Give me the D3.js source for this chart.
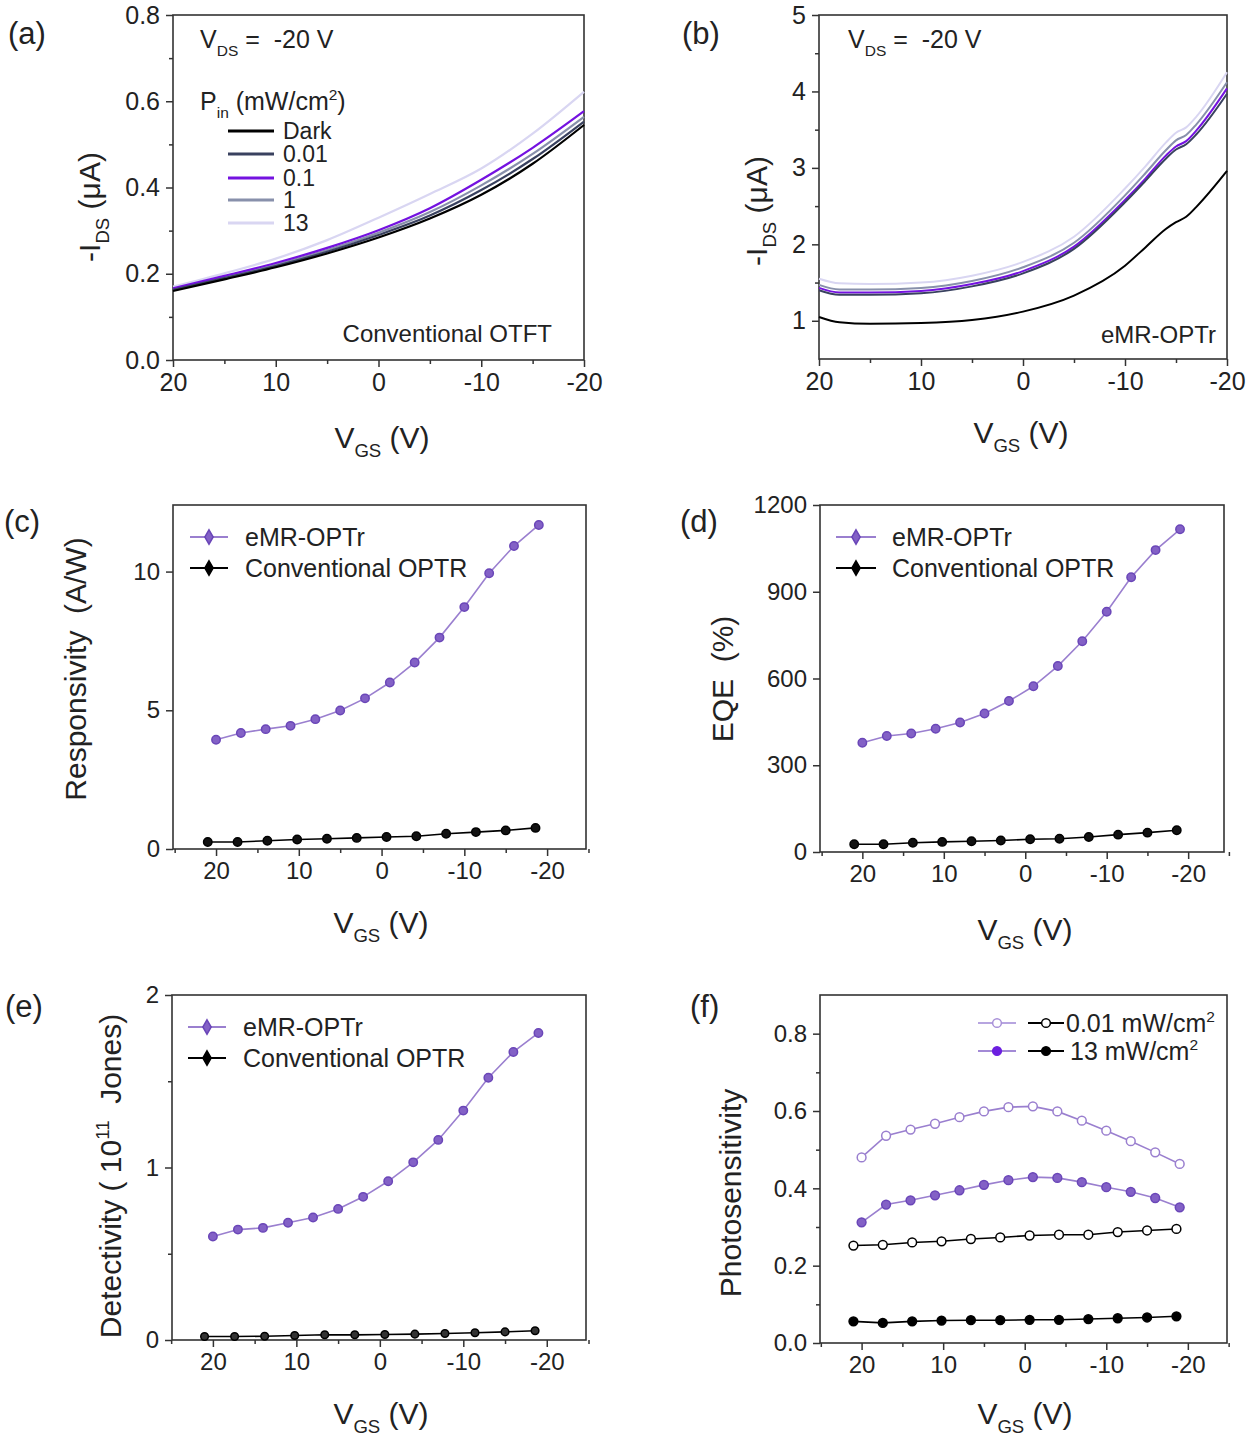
<!DOCTYPE html>
<html>
<head>
<meta charset="utf-8">
<script src="https://cdn.jsdelivr.net/npm/d3@7"></script>
<style>
  html, body { margin: 0; padding: 0; background: #fff; }
  svg text { font-family: "Liberation Sans", Arial, sans-serif; fill: #222; white-space: pre; }
</style>
</head>
<body>
<div id="container"></div>
<script>
// ---- data ----
// (a) conventional OTFT transfer curves, -IDS (uA) vs VGS
const vgsA = [20, 15, 10, 5, 0, -5, -10, -15, -20];
const powerLabels = ["Dark", "0.01", "0.1", "1", "13"];
const powerColors = ["#000000", "#39415f", "#7412e0", "#8890ab", "#d9d6f2"];
const idsA = [
  [0.160, 0.187, 0.215, 0.247, 0.284, 0.328, 0.383, 0.455, 0.545],
  [0.163, 0.190, 0.218, 0.251, 0.290, 0.335, 0.394, 0.466, 0.553],
  [0.166, 0.195, 0.225, 0.260, 0.301, 0.352, 0.418, 0.492, 0.577],
  [0.164, 0.192, 0.221, 0.255, 0.295, 0.343, 0.405, 0.478, 0.564],
  [0.170, 0.201, 0.235, 0.278, 0.330, 0.385, 0.444, 0.525, 0.622]
];

// (b) eMR-OPTr transfer curves
const vgsB = [20, 18, 15, 10, 5, 0, -5, -10, -12, -14, -15, -16, -17, -20];
const idsB = [
  [1.05, 0.98, 0.96, 0.97, 1.01, 1.12, 1.33, 1.72, 1.96, 2.20, 2.29, 2.36, 2.49, 2.96],
  [1.40, 1.34, 1.34, 1.36, 1.45, 1.62, 1.94, 2.55, 2.83, 3.12, 3.24, 3.31, 3.44, 3.97],
  [1.43, 1.37, 1.37, 1.39, 1.48, 1.65, 1.97, 2.58, 2.86, 3.16, 3.28, 3.35, 3.49, 4.04],
  [1.47, 1.41, 1.41, 1.43, 1.52, 1.70, 2.02, 2.64, 2.93, 3.23, 3.36, 3.43, 3.57, 4.12],
  [1.55, 1.49, 1.48, 1.50, 1.59, 1.77, 2.10, 2.73, 3.02, 3.33, 3.46, 3.53, 3.67, 4.25]
];

// (c)-(f) figures of merit
const vgsEmr = [20, 17, 14, 11, 8, 5, 2, -1, -4, -7, -10, -13, -16, -19];
const vgsConv = [21, 17.4, 13.8, 10.2, 6.6, 3, -0.6, -4.2, -7.8, -11.4, -15, -18.6];
const respEmr = [3.94, 4.18, 4.32, 4.44, 4.68, 4.99, 5.43, 6.0, 6.72, 7.62, 8.72, 9.94, 10.92, 11.68];
const respConv = [0.25, 0.25, 0.30, 0.34, 0.37, 0.40, 0.43, 0.46, 0.55, 0.61, 0.67, 0.76];
const eqeEmr = [378, 401, 410, 426, 448, 479, 522, 573, 643, 729, 831, 950, 1044, 1116];
const eqeConv = [27, 27, 32, 35, 37, 40, 44, 46, 52, 60, 67, 75];
const detEmr = [0.60, 0.64, 0.65, 0.68, 0.71, 0.76, 0.83, 0.92, 1.03, 1.16, 1.33, 1.52, 1.67, 1.78];
const detConv = [0.02, 0.02, 0.022, 0.026, 0.03, 0.03, 0.032, 0.034, 0.038, 0.042, 0.047, 0.054];
const psEmrLow = [0.480, 0.536, 0.552, 0.567, 0.584, 0.599, 0.610, 0.612, 0.599, 0.575, 0.549, 0.522, 0.493, 0.463];
const psEmrHigh = [0.312, 0.358, 0.369, 0.382, 0.395, 0.409, 0.421, 0.429, 0.427, 0.416, 0.403, 0.391, 0.375, 0.351];
const psConvLow = [0.252, 0.254, 0.260, 0.263, 0.269, 0.273, 0.278, 0.280, 0.280, 0.287, 0.291, 0.295];
const psConvHigh = [0.056, 0.052, 0.056, 0.058, 0.059, 0.059, 0.060, 0.060, 0.062, 0.064, 0.066, 0.069];

const seriesNames = ["eMR-OPTr", "Conventional OPTR"];

const emrLine = "#9a7fcf", emrFill = "#8361c6", emrStroke = "#6a46b8", emrVivid = "#6c1fe0";

const svg = d3.select("#container").append("svg")
  .attr("width", 1250).attr("height", 1439);

// text with sub/superscript parts
function rich(sel, parts, size) {
  let shift = 0;
  parts.forEach(p => {
    const target = p.sub ? size * 0.3 : p.sup ? -size * 0.4 : 0;
    const ts = sel.append("tspan").text(p.t).attr("dy", target - shift);
    if (p.sub || p.sup) ts.attr("font-size", size * 0.62);
    shift = target;
  });
  return sel;
}

function label(x, y, parts, size, anchor, rotate) {
  const t = svg.append("text")
    .attr("font-size", size)
    .attr("text-anchor", anchor || "start");
  if (rotate) t.attr("transform", `translate(${x},${y}) rotate(-90)`);
  else t.attr("x", x).attr("y", y);
  return rich(t, parts, size);
}

function panel(o) {
  const x = d3.scaleLinear().domain(o.xDomain).range([o.left, o.right]);
  const y = d3.scaleLinear().domain(o.yDomain).range([o.bottom, o.top]);
  const g = svg.append("g");

  const fmtY = o.yFmt || (d => String(d));
  const ax = g.append("g").attr("transform", `translate(0,${o.bottom})`)
    .call(d3.axisBottom(x).tickValues(o.xTicks).tickSize(7).tickPadding(6)
      .tickFormat(d => String(d)));
  const ay = g.append("g").attr("transform", `translate(${o.left},0)`)
    .call(d3.axisLeft(y).tickValues(o.yTicks).tickSize(7).tickPadding(6)
      .tickFormat(fmtY));
  [ax, ay].forEach(a => {
    a.selectAll("text").attr("font-size", o.tickSize || 24)
      .attr("font-family", '"Liberation Sans", Arial, sans-serif').attr("fill", "#333");
    a.selectAll("line").attr("stroke", "#333").attr("stroke-width", 1.5);
    a.select(".domain").remove();
  });
  if (o.xMinor) g.append("g").attr("transform", `translate(0,${o.bottom})`)
    .call(d3.axisBottom(x).tickValues(o.xMinor).tickSize(4).tickFormat(""))
    .call(s => { s.select(".domain").remove(); s.selectAll("line").attr("stroke", "#333").attr("stroke-width", 1.5); });
  if (o.yMinor) g.append("g").attr("transform", `translate(${o.left},0)`)
    .call(d3.axisLeft(y).tickValues(o.yMinor).tickSize(4).tickFormat(""))
    .call(s => { s.select(".domain").remove(); s.selectAll("line").attr("stroke", "#333").attr("stroke-width", 1.5); });

  g.append("rect")
    .attr("x", o.left).attr("y", o.top)
    .attr("width", o.right - o.left).attr("height", o.bottom - o.top)
    .attr("fill", "none").attr("stroke", "#333").attr("stroke-width", 1.6);

  return { g, x, y };
}

function curves(p, xs, ys, colors, width, curve) {
  const line = d3.line().x((d, i) => p.x(xs[i])).y(d => p.y(d)).curve(curve || d3.curveLinear);
  ys.forEach((s, k) => {
    p.g.append("path").datum(s).attr("d", line)
      .attr("fill", "none").attr("stroke", colors[k]).attr("stroke-width", width);
  });
}

function markers(p, xs, ys, fill, stroke, r) {
  p.g.selectAll(null).data(ys).join("circle")
    .attr("cx", (d, i) => p.x(xs[i])).attr("cy", d => p.y(d))
    .attr("r", r || 4.2).attr("fill", fill).attr("stroke", stroke).attr("stroke-width", 1.5);
}

function legendRow(x1, x2, yy, color, fill, stroke, shape) {
  svg.append("line").attr("x1", x1).attr("x2", x2).attr("y1", yy).attr("y2", yy)
    .attr("stroke", color).attr("stroke-width", 2);
  svg.append("path")
    .attr("transform", `translate(${(x1 + x2) / 2},${yy})`)
    .attr("d", d3.symbol().type(shape || d3.symbolDiamond).size(60)())
    .attr("fill", fill).attr("stroke", stroke).attr("stroke-width", 1.5);
}

const xTicks = [20, 10, 0, -10, -20];
const xMinorA = [15, 5, -5, -15];
const xMinorC = [25, 15, 5, -5, -15, -25];
const V_GS = [{ t: "V" }, { t: "GS", sub: true }, { t: " (V)" }];

// ---------- (a) ----------
const pa = panel({ left: 173, right: 584, top: 15, bottom: 360, xDomain: [20, -20], yDomain: [0, 0.8],
  xTicks, xMinor: xMinorA, yTicks: [0, 0.2, 0.4, 0.6, 0.8], yMinor: [0.1, 0.3, 0.5, 0.7],
  yFmt: d3.format(".1f"), tickSize: 25 });
curves(pa, vgsA, idsA.slice().reverse(), powerColors.slice().reverse(), 2.2, d3.curveMonotoneX);
label(8, 44, [{ t: "(a)" }], 31);
label(200, 48, [{ t: "V" }, { t: "DS", sub: true }, { t: " =  -20 V" }], 25);
label(200, 110, [{ t: "P" }, { t: "in", sub: true }, { t: " (mW/cm" }, { t: "2", sup: true }, { t: ")" }], 25);
const legY = [131, 154, 178, 200, 223];
powerLabels.forEach((lab, i) => {
  svg.append("line").attr("x1", 228).attr("x2", 274).attr("y1", legY[i]).attr("y2", legY[i])
    .attr("stroke", powerColors[i]).attr("stroke-width", 3);
  label(283, legY[i] + 8, [{ t: lab }], 23);
});
label(552, 342, [{ t: "Conventional OTFT" }], 24, "end");
label(100, 207, [{ t: "-I" }, { t: "DS", sub: true }, { t: " (μA)" }], 30, "middle", true);
label(382, 448, V_GS, 30, "middle");

// ---------- (b) ----------
const pb = panel({ left: 819, right: 1227, top: 15, bottom: 359, xDomain: [20, -20], yDomain: [0.5, 5],
  xTicks, xMinor: xMinorA, yTicks: [1, 2, 3, 4, 5], yMinor: [1.5, 2.5, 3.5, 4.5], tickSize: 25 });
curves(pb, vgsB, idsB.slice().reverse(), powerColors.slice().reverse(), 2, d3.curveMonotoneX);
label(682, 44, [{ t: "(b)" }], 31);
label(848, 48, [{ t: "V" }, { t: "DS", sub: true }, { t: " =  -20 V" }], 25);
label(1216, 343, [{ t: "eMR-OPTr" }], 24, "end");
label(767, 211, [{ t: "-I" }, { t: "DS", sub: true }, { t: " (μA)" }], 30, "middle", true);
label(1021, 443, V_GS, 30, "middle");

// ---------- (c) ----------
const pc = panel({ left: 173, right: 586, top: 505, bottom: 849, xDomain: [25.2, -24.7], yDomain: [0, 12.4],
  xTicks, xMinor: xMinorC, yTicks: [0, 5, 10] });
curves(pc, vgsEmr, [respEmr], [emrLine], 1.6);
curves(pc, vgsConv, [respConv], ["#000"], 1.6);
markers(pc, vgsEmr, respEmr, emrFill, emrStroke);
markers(pc, vgsConv, respConv, "#111", "#000");
label(4, 532, [{ t: "(c)" }], 31);
legendRow(190, 228, 537, emrLine, emrFill, emrStroke);
legendRow(190, 228, 568, "#000", "#000", "#000");
label(245, 546, [{ t: seriesNames[0] }], 25);
label(245, 577, [{ t: seriesNames[1] }], 25);
label(86, 669, [{ t: "Responsivity  (A/W)" }], 30, "middle", true);
label(381, 933, V_GS, 30, "middle");

// ---------- (d) ----------
const pd = panel({ left: 820, right: 1224, top: 505, bottom: 852, xDomain: [25.2, -24.4], yDomain: [0, 1200],
  xTicks, xMinor: xMinorC, yTicks: [0, 300, 600, 900, 1200] });
curves(pd, vgsEmr, [eqeEmr], [emrLine], 1.6);
curves(pd, vgsConv, [eqeConv], ["#000"], 1.6);
markers(pd, vgsEmr, eqeEmr, emrFill, emrStroke);
markers(pd, vgsConv, eqeConv, "#111", "#000");
label(680, 532, [{ t: "(d)" }], 31);
legendRow(836, 876, 537, emrLine, emrFill, emrStroke);
legendRow(836, 876, 568, "#000", "#000", "#000");
label(892, 546, [{ t: seriesNames[0] }], 25);
label(892, 577, [{ t: seriesNames[1] }], 25);
label(733, 679, [{ t: "EQE  (%)" }], 30, "middle", true);
label(1025, 940, V_GS, 30, "middle");

// ---------- (e) ----------
const pe = panel({ left: 172, right: 586, top: 995, bottom: 1340, xDomain: [24.9, -24.7], yDomain: [0, 2],
  xTicks, xMinor: xMinorC, yTicks: [0, 1, 2], yMinor: [0.5, 1.5] });
curves(pe, vgsEmr, [detEmr], [emrLine], 1.6);
curves(pe, vgsConv, [detConv], ["#000"], 1.6);
markers(pe, vgsEmr, detEmr, emrFill, emrStroke);
markers(pe, vgsConv, detConv, "#333", "#000", 3.8);
label(5, 1017, [{ t: "(e)" }], 31);
legendRow(188, 226, 1027, emrLine, emrFill, emrStroke);
legendRow(188, 226, 1058, "#000", "#000", "#000");
label(243, 1036, [{ t: seriesNames[0] }], 25);
label(243, 1067, [{ t: seriesNames[1] }], 25);
label(121, 1176, [{ t: "Detectivity ( 10" }, { t: "11", sup: true }, { t: "  Jones)" }], 30, "middle", true);
label(381, 1424, V_GS, 30, "middle");

// ---------- (f) ----------
const pf = panel({ left: 820, right: 1227, top: 995, bottom: 1343, xDomain: [25.1, -24.8], yDomain: [0, 0.9],
  xTicks, xMinor: xMinorC, yTicks: [0, 0.2, 0.4, 0.6, 0.8], yMinor: [0.1, 0.3, 0.5, 0.7],
  yFmt: d3.format(".1f") });
curves(pf, vgsEmr, [psEmrLow, psEmrHigh], [emrLine, emrLine], 1.6);
curves(pf, vgsConv, [psConvLow, psConvHigh], ["#000", "#000"], 1.6);
markers(pf, vgsEmr, psEmrLow, "#fff", emrLine, 4.4);
markers(pf, vgsEmr, psEmrHigh, emrFill, emrStroke, 4.4);
markers(pf, vgsConv, psConvLow, "#fff", "#000", 4.4);
markers(pf, vgsConv, psConvHigh, "#000", "#000", 4.4);
label(690, 1017, [{ t: "(f)" }], 31);
legendRow(978, 1016, 1023, "#b7a5e0", "#fff", "#a890d8", d3.symbolCircle);
legendRow(1028, 1064, 1023, "#000", "#fff", "#000", d3.symbolCircle);
legendRow(978, 1016, 1051, "#a38ad6", emrVivid, emrVivid, d3.symbolCircle);
legendRow(1028, 1064, 1051, "#000", "#000", "#000", d3.symbolCircle);
label(1066, 1032, [{ t: "0.01 mW/cm" }, { t: "2", sup: true }], 25);
label(1070, 1060, [{ t: "13 mW/cm" }, { t: "2", sup: true }], 25);
label(741, 1193, [{ t: "Photosensitivity" }], 30, "middle", true);
label(1025, 1424, V_GS, 30, "middle");
</script>
</body>
</html>
